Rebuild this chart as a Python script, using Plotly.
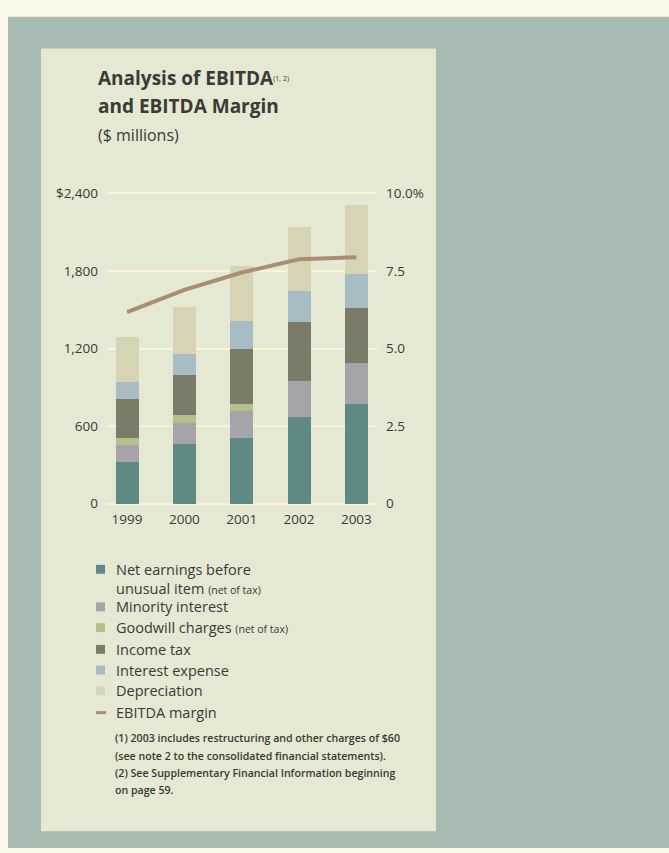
import plotly.graph_objects as go

# ---- data ($ millions) ----
years = ["1999", "2000", "2001", "2002", "2003"]
net_earnings = [327, 465, 511, 671, 773]
minority_interest = [133, 165, 206, 280, 318]
goodwill_charges = [54, 62, 56, 0, 0]
income_tax = [298, 305, 428, 459, 426]
interest_expense = [134, 166, 218, 237, 262]
depreciation = [344, 362, 420, 494, 535]
ebitda_margin = [6.17, 6.89, 7.45, 7.88, 7.94]  # percent

left_tickvals = [0, 600, 1200, 1800, 2400]
left_ticktext = ["0", "600", "1,200", "1,800", "$2,400"]
right_tickvals = [0, 2.5, 5.0, 7.5, 10.0]
right_ticktext = ["0", "2.5", "5.0", "7.5", "10.0%"]

series = [
    ("Net earnings before unusual item", net_earnings, "#5e8985"),
    ("Minority interest", minority_interest, "#a6a3a9"),
    ("Goodwill charges", goodwill_charges, "#b4c08a"),
    ("Income tax", income_tax, "#7a7c69"),
    ("Interest expense", interest_expense, "#a8bcc3"),
    ("Depreciation", depreciation, "#d7d4b5"),
]
line_color = "#a98f72"

W, H = 669, 853
FONT = "Open Sans"
TEXT = "#3a3a36"


def px(x):
    return x / W


def py(y):
    return 1 - y / H


fig = go.Figure()
for name, vals, col in series:
    fig.add_trace(go.Bar(
        x=years, y=vals, name=name, marker=dict(color=col, line=dict(width=0)),
        width=0.40, yaxis="y",
    ))
fig.add_trace(go.Scatter(
    x=years, y=ebitda_margin, name="EBITDA margin", mode="lines",
    line=dict(color=line_color, width=4), yaxis="y2",
))

# axis geometry: 0 sits at y=504.5px, 2400 at 190.7px
y0_px, ytop_px = 504.5, 190.7
per_px = 2400 / (y0_px - ytop_px)
pad = 30
lo_px = y0_px + pad / per_px
hi_px = ytop_px - pad / per_px

tick_font = dict(size=13.5, color=TEXT, family=FONT)

fig.update_layout(
    width=W, height=H,
    margin=dict(l=0, r=0, t=0, b=0),
    paper_bgcolor="#fbfaea",
    plot_bgcolor="rgba(0,0,0,0)",
    barmode="stack",
    bargap=0,
    showlegend=False,
    font=dict(family=FONT, color=TEXT, size=14),
    xaxis=dict(
        domain=[px(107), px(377)], range=[-0.35, 4.36], type="category",
        showgrid=False, showline=False, zeroline=False, ticks="",
        tickfont=tick_font, ticklabelstandoff=2,
    ),
    yaxis=dict(
        domain=[py(lo_px), py(hi_px)], range=[-pad, 2400 + pad],
        tickvals=left_tickvals, ticktext=left_ticktext,
        showgrid=True, gridcolor="#f7f4d8", gridwidth=2,
        zeroline=False, showline=False, ticks="",
        tickfont=tick_font, ticklabelstandoff=8,
    ),
    yaxis2=dict(
        overlaying="y", side="right",
        range=[-pad / 240, 10 + pad / 240],
        tickvals=right_tickvals, ticktext=right_ticktext,
        showgrid=False, zeroline=False, showline=False, ticks="",
        tickfont=tick_font, ticklabelstandoff=8,
    ),
)

shapes = [
    # outer teal panel
    dict(type="rect", xref="paper", yref="paper", x0=px(8), x1=1, y0=0, y1=py(12),
         fillcolor="#a7bab1", line=dict(width=0), layer="below"),
    # inner light card
    dict(type="rect", xref="paper", yref="paper", x0=px(41), x1=px(436), y0=py(836), y1=py(44),
         fillcolor="#e5e8d2", line=dict(width=0), layer="below"),
]

annotations = [
    dict(text="<b>Analysis of EBITDA</b><span style='font-size:10px'><sup>(1, 2)</sup></span>",
         x=px(96), y=py(74), font=dict(size=19, color=TEXT)),
    dict(text="<b>and EBITDA Margin</b>", x=px(96), y=py(102), font=dict(size=19, color=TEXT)),
    dict(text="($ millions)", x=px(96), y=py(132), font=dict(size=16, color=TEXT)),
]

# legend rows: (label, swatch colour or None, y centre, is_line)
small = "<span style='font-size:10.5px'>(net of tax)</span>"
legend_rows = [
    ("Net earnings before", series[0][2], 571, False),
    ("unusual item " + small, None, 590, False),
    ("Minority interest", series[1][2], 609, False),
    ("Goodwill charges " + small, series[2][2], 630, False),
    ("Income tax", series[3][2], 652, False),
    ("Interest expense", series[4][2], 673, False),
    ("Depreciation", series[5][2], 694, False),
    ("EBITDA margin", line_color, 716, True),
]
for label, col, yc, is_line in legend_rows:
    annotations.append(dict(text=label, x=px(114), y=py(yc), font=dict(size=14.5, color=TEXT)))
    if col is None:
        continue
    if is_line:
        shapes.append(dict(type="rect", xref="paper", yref="paper",
                           x0=px(96), x1=px(106), y0=py(717.5), y1=py(714.5),
                           fillcolor=col, line=dict(width=0)))
    else:
        shapes.append(dict(type="rect", xref="paper", yref="paper",
                           x0=px(96), x1=px(105), y0=py(yc + 4.5), y1=py(yc - 4.5),
                           fillcolor=col, line=dict(width=0)))

notes = [
    ("(1) 2003 includes restructuring and other charges of $60", 742),
    ("(see note 2 to the consolidated financial statements).", 760),
    ("(2) See Supplementary Financial Information beginning", 777),
    ("on page 59.", 794),
]
for txt, yc in notes:
    annotations.append(dict(text=txt, x=px(113), y=py(yc),
                            font=dict(size=10.6, color="#383833", weight=600)))

for a in annotations:
    a.update(xref="paper", yref="paper", xanchor="left", yanchor="middle", showarrow=False)

fig.update_layout(shapes=shapes, annotations=annotations)
fig.write_html("out.html")
